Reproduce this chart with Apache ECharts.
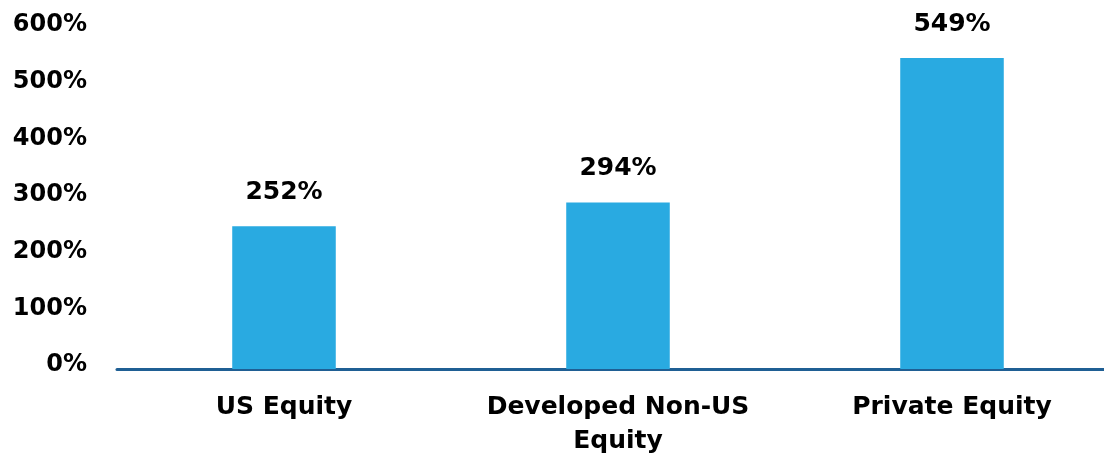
<!DOCTYPE html>
<html><head><meta charset="utf-8">
<script src="https://cdn.jsdelivr.net/npm/echarts@6/dist/echarts.min.js"></script>
<style>html,body{margin:0;padding:0;background:#fff}#c{width:1104px;height:456px}</style>
</head><body><div id="c"></div>
<script>
const categories = ['US Equity', 'Developed Non-US\nEquity', 'Private Equity'];
const values = [252, 294, 549];
const chart = echarts.init(document.getElementById('c'));
const font = 'DejaVu Sans';
chart.setOption({
  animation: false,
  grid: {left: 117, width: 1002, top: 29, height: 340, outerBoundsMode: 'none', containLabel: false},
  xAxis: {
    type: 'category', data: categories,
    axisLine: {lineStyle: {color: '#1f5f94', width: 3}},
    axisTick: {show: false},
    axisLabel: {color: '#000', fontFamily: font, fontWeight: 'bold', fontSize: 25, lineHeight: 34, margin: 21, interval: 0}
  },
  yAxis: {
    type: 'value', min: 0, max: 600, interval: 100,
    splitLine: {show: false}, axisLine: {show: false}, axisTick: {show: false},
    axisLabel: {formatter: '{value}%', color: '#000', fontFamily: font, fontWeight: 'bold', fontSize: 24, margin: 30, verticalAlign: 'bottom', lineHeight: 8}
  },
  series: [{
    type: 'bar', data: values, barWidth: '31%',
    itemStyle: {color: '#29aae1'},
    label: {show: true, position: 'top', distance: 21, formatter: '{c}%', color: '#000', fontFamily: font, fontWeight: 'bold', fontSize: 25}
  }]
});
</script></body></html>
